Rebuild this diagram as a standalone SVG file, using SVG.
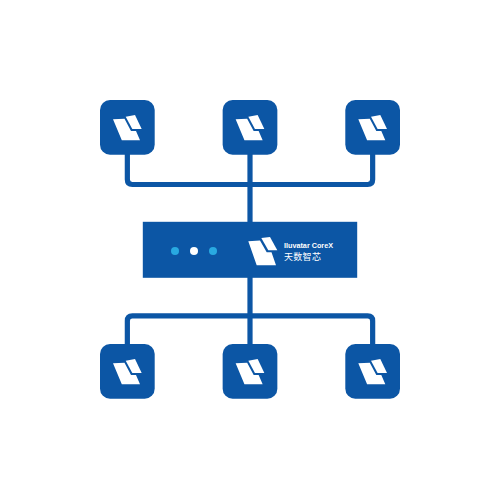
<svg xmlns="http://www.w3.org/2000/svg" width="500" height="500" viewBox="0 0 500 500">
<style>
.b{fill:#0c56a5}.w{fill:#fff}.c{fill:none;stroke:#0c56a5;stroke-width:5.200;stroke-linejoin:round}
.d{fill:#29a9e1}
.t1{font-family:"Liberation Sans",Arial,sans-serif;font-size:7px;font-weight:700;fill:#fff}
.t2{font-family:"Noto Sans CJK SC",sans-serif;font-size:9px;fill:#fff;letter-spacing:.3px}
</style>
<defs>
<g id="node"><rect class="b" width="54.700" height="54.700" rx="10" ry="10"/>
<path class="w" d="M13 19.300 24.500 18.800 31 31 36 31 40 40.200 21.800 40.200Z"/>
<path class="w" d="M25.700 16.700 35 15 41.700 29 32.300 29Z"/></g>
</defs>
<rect width="500" height="500" fill="#fff"/>
<g id="connectors">
<path class="c" d="M127.350 154V179.500Q127.350 184.500 132.350 184.500H367.650Q372.650 184.500 372.650 179.500V154"/>
<path class="c" d="M250 154V222"/>
<path class="c" d="M127.350 345V320.800Q127.350 315.800 132.350 315.800H367.650Q372.650 315.800 372.650 320.800V345"/>
<path class="c" d="M250 277V345"/>
</g>
<g id="node-top-1"><use href="#node" x="100" y="100"/></g>
<g id="node-top-2"><use href="#node" x="222.650" y="100"/></g>
<g id="node-top-3"><use href="#node" x="345.300" y="100"/></g>
<g id="node-bottom-1"><use href="#node" x="100" y="344"/></g>
<g id="node-bottom-2"><use href="#node" x="222.650" y="344"/></g>
<g id="node-bottom-3"><use href="#node" x="345.300" y="344"/></g>
<g id="center">
<rect class="b" x="142.800" y="221.800" width="214.400" height="56"/>
<circle class="d" cx="175" cy="251" r="4"/>
<circle class="w" cx="194" cy="251" r="4"/>
<circle class="d" cx="213" cy="251" r="4"/>
<path class="w" d="M248.300 241.300 260 240.500 266.700 252.300 271.500 252.300 276 265.300 256.700 265.300Z"/>
<path class="w" d="M261.300 238 270 237 277.300 250.300 268.300 250.300Z"/>
<text class="t1" x="284" y="248" textLength="49" lengthAdjust="spacingAndGlyphs">Iluvatar CoreX</text>
<text class="t2" x="284" y="259.500">天数智芯</text>
</g>
</svg>
